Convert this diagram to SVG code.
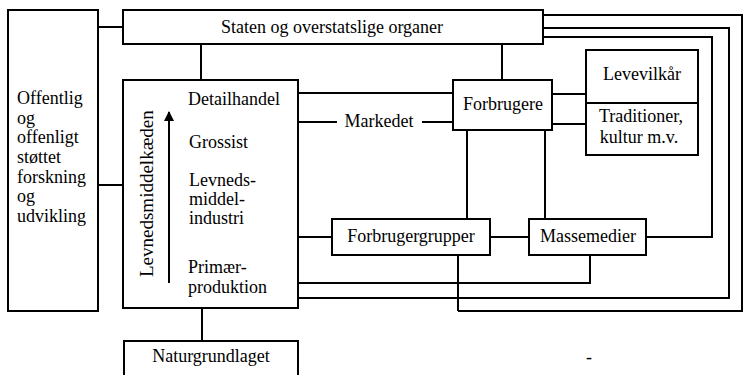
<svg xmlns="http://www.w3.org/2000/svg" width="744" height="375" viewBox="0 0 744 375">
<defs>
<style>
.box{fill:#fff;stroke:#000;stroke-width:2}
.ln{fill:none;stroke:#000;stroke-width:2}
.t{font-family:'Liberation Serif','DejaVu Serif',serif;font-size:18px;fill:#000}
.c{text-anchor:middle}
</style>
<marker id="ah" viewBox="0 0 10 10" refX="9" refY="5" markerWidth="5" markerHeight="5" orient="auto" markerUnits="strokeWidth">
<path d="M0,0 L10,5 L0,10 z" fill="#000"/>
</marker>
</defs>
<rect width="744" height="375" fill="#fff"/>
<g id="connectors">
<path class="ln" d="M98,27 H123"/>
<path class="ln" d="M98,185 H123"/>
<path class="ln" d="M201,44 V80"/>
<path class="ln" d="M502,44 V80"/>
<path class="ln" d="M298,93 H453"/>
<path class="ln" d="M298,122 H337 M422,122 H453"/>
<path class="ln" d="M552,94 H586 M552,124 H586"/>
<path class="ln" d="M467,130 V219"/>
<path class="ln" d="M545,130 V219"/>
<path class="ln" d="M298,237 H332"/>
<path class="ln" d="M490,237 H529"/>
<path class="ln" d="M646,237 H712 V37 H543"/>
<path class="ln" d="M298,283 H590 V255"/>
<path class="ln" d="M458,255 V311"/>
<path class="ln" d="M298,298 H729 V28 H543"/>
<path class="ln" d="M543,15 H742 V311 H458"/>
<path class="ln" d="M202,308 V341"/>
<text class="t c" font-family="Liberation Serif, DejaVu Serif, serif" x="379" y="127">Markedet</text>
</g>
<g id="offentlig" font-family="Liberation Serif, DejaVu Serif, serif">
<rect class="box" x="8" y="10" width="90" height="301"/>
<text class="t" x="17" y="104">Offentlig</text>
<text class="t" x="17" y="124">og</text>
<text class="t" x="17" y="143">offenligt</text>
<text class="t" x="17" y="163">støttet</text>
<text class="t" x="17" y="183">forskning</text>
<text class="t" x="17" y="202">og</text>
<text class="t" x="17" y="222">udvikling</text>
</g>
<g id="staten" font-family="Liberation Serif, DejaVu Serif, serif">
<rect class="box" x="123" y="10" width="420" height="34"/>
<text class="t c" x="332" y="33">Staten og overstatslige organer</text>
</g>
<g id="levnedsmiddelkaeden" font-family="Liberation Serif, DejaVu Serif, serif">
<rect class="box" x="123" y="80" width="175" height="228"/>
<text class="t" transform="translate(153,277) rotate(-90)" style="font-size:19px">Levnedsmiddelkæden</text>
<line class="ln" x1="169" y1="283" x2="169" y2="112" marker-end="url(#ah)"/>
<text class="t" x="188" y="105">Detailhandel</text>
<text class="t" x="189" y="148">Grossist</text>
<text class="t" x="189" y="186">Levneds-</text>
<text class="t" x="189" y="205">middel-</text>
<text class="t" x="189" y="224">industri</text>
<text class="t" x="188" y="273">Primær-</text>
<text class="t" x="188" y="293">produktion</text>
</g>
<g id="forbrugere" font-family="Liberation Serif, DejaVu Serif, serif">
<rect class="box" x="453" y="80" width="99" height="50"/>
<text class="t c" x="503" y="110">Forbrugere</text>
</g>
<g id="levevilkaar" font-family="Liberation Serif, DejaVu Serif, serif">
<rect class="box" x="586" y="50" width="112" height="53"/>
<text class="t c" x="642" y="80">Levevilkår</text>
</g>
<g id="traditioner" font-family="Liberation Serif, DejaVu Serif, serif">
<rect class="box" x="586" y="103" width="112" height="52"/>
<text class="t c" x="641" y="122">Traditioner,</text>
<text class="t c" x="639" y="143">kultur m.v.</text>
</g>
<g id="forbrugergrupper" font-family="Liberation Serif, DejaVu Serif, serif">
<rect class="box" x="332" y="219" width="158" height="36"/>
<text class="t c" x="411" y="242">Forbrugergrupper</text>
</g>
<g id="massemedier" font-family="Liberation Serif, DejaVu Serif, serif">
<rect class="box" x="529" y="219" width="117" height="36"/>
<text class="t c" x="588" y="242">Massemedier</text>
</g>
<g id="naturgrundlaget" font-family="Liberation Serif, DejaVu Serif, serif">
<rect class="box" x="124" y="341" width="174" height="50"/>
<text class="t c" x="211" y="362">Naturgrundlaget</text>
</g>
<text class="t c" x="589" y="363">-</text>
</svg>
